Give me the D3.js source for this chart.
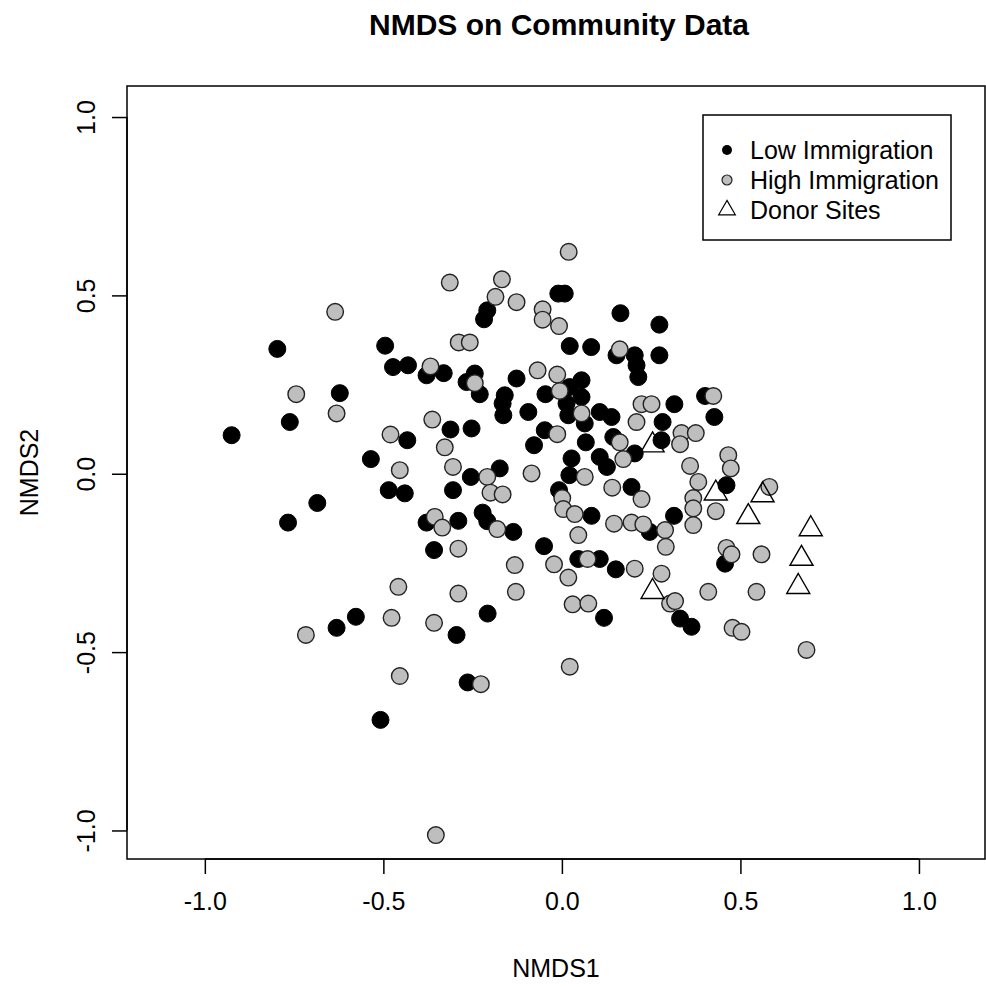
<!DOCTYPE html>
<html>
<head>
<meta charset="utf-8">
<script src="https://cdn.jsdelivr.net/npm/d3@7"></script>
<style>
  body { margin: 0; background: #fff; }
  text { font-family: "Liberation Sans", Arial, sans-serif; fill: #000; }
</style>
</head>
<body>
<div id="chart"></div>
<script>
// NMDS site scores, [NMDS1, NMDS2]
const lowImmigration = [
  [-0.797, 0.350], [-0.495, 0.359], [-0.473, 0.299], [-0.431, 0.304], [-0.622, 0.226],
  [-0.762, 0.145], [-0.925, 0.108], [-0.433, 0.094], [-0.010, 0.505], [0.008, 0.505],
  [-0.209, 0.458], [-0.218, 0.433], [0.022, 0.358], [0.082, 0.355], [0.164, 0.450],
  [-0.379, 0.276], [-0.331, 0.282], [-0.244, 0.281], [-0.267, 0.257], [-0.230, 0.223],
  [-0.127, 0.267], [-0.160, 0.220], [-0.166, 0.197], [-0.164, 0.164], [-0.094, 0.173],
  [0.055, 0.262], [-0.046, 0.223], [0.022, 0.243], [0.055, 0.215], [0.013, 0.197],
  [0.106, 0.173], [0.139, 0.159], [0.018, 0.164], [0.064, 0.141], [-0.048, 0.122],
  [-0.312, 0.124], [-0.253, 0.127], [-0.078, 0.080], [0.067, 0.088], [0.144, 0.103],
  [0.273, 0.418], [0.153, 0.332], [0.204, 0.332], [0.209, 0.304], [0.214, 0.271],
  [0.273, 0.332], [0.401, 0.218], [0.315, 0.195], [0.427, 0.159], [0.282, 0.145],
  [0.279, 0.094], [-0.535, 0.041], [-0.485, -0.046], [-0.440, -0.055], [-0.685, -0.082],
  [-0.767, -0.137], [-0.577, -0.401], [-0.631, -0.432], [-0.255, -0.009], [-0.174, 0.015],
  [-0.305, -0.046], [-0.379, -0.137], [-0.290, -0.132], [-0.222, -0.109], [-0.209, -0.133],
  [-0.136, -0.163], [-0.358, -0.214], [-0.208, -0.392], [-0.295, -0.452], [0.027, 0.043],
  [0.021, -0.004], [0.106, 0.047], [0.126, 0.019], [-0.008, -0.046], [0.083, -0.118],
  [-0.050, -0.203], [0.046, -0.239], [0.106, -0.239], [0.151, -0.268], [0.118, -0.404],
  [0.204, 0.057], [0.461, -0.032], [0.314, -0.118], [0.195, -0.037], [0.246, -0.163],
  [0.457, -0.252], [0.331, -0.406], [0.363, -0.429], [-0.264, -0.585], [-0.508, -0.690]
];

const highImmigration = [
  [-0.635, 0.454], [-0.744, 0.223], [-0.631, 0.169], [-0.480, 0.110], [0.019, 0.622],
  [-0.314, 0.536], [-0.168, 0.545], [-0.186, 0.496], [-0.127, 0.481], [-0.054, 0.461],
  [-0.054, 0.432], [-0.008, 0.414], [0.162, 0.349], [-0.289, 0.368], [-0.258, 0.368],
  [-0.368, 0.301], [-0.244, 0.254], [-0.068, 0.290], [-0.013, 0.278], [-0.006, 0.232],
  [0.055, 0.169], [-0.013, 0.111], [-0.363, 0.152], [-0.328, 0.074], [0.424, 0.218],
  [0.223, 0.195], [0.251, 0.195], [0.209, 0.145], [0.335, 0.114], [0.375, 0.114],
  [0.162, 0.088], [0.331, 0.083], [-0.454, 0.010], [-0.458, -0.317], [-0.477, -0.404],
  [-0.717, -0.452], [-0.305, 0.019], [-0.209, -0.009], [-0.200, -0.053], [-0.166, -0.058],
  [-0.356, -0.121], [-0.335, -0.151], [-0.181, -0.155], [-0.290, -0.210], [-0.132, -0.256],
  [-0.129, -0.331], [-0.290, -0.336], [-0.358, -0.418], [-0.085, 0.001], [0.064, -0.009],
  [0.141, -0.039], [0.001, -0.068], [0.004, -0.099], [0.036, -0.113], [0.146, -0.140],
  [0.046, -0.172], [-0.022, -0.254], [0.018, -0.291], [0.072, -0.239], [0.030, -0.366],
  [0.074, -0.364], [0.172, 0.041], [0.359, 0.022], [0.382, -0.023], [0.466, 0.052],
  [0.473, 0.015], [0.581, -0.037], [0.368, -0.068], [0.368, -0.097], [0.431, -0.105],
  [0.368, -0.144], [0.223, -0.071], [0.195, -0.137], [0.228, -0.142], [0.289, -0.158],
  [0.291, -0.205], [0.461, -0.208], [0.475, -0.226], [0.559, -0.226], [0.545, -0.331],
  [0.410, -0.331], [0.204, -0.266], [0.279, -0.280], [0.303, -0.364], [0.317, -0.357],
  [0.478, -0.432], [0.503, -0.443], [-0.454, -0.567], [-0.227, -0.590], [0.022, -0.541],
  [-0.353, -1.013], [0.685, -0.494]
];

const donorSites = [
  [0.254, 0.080], [0.431, -0.055], [0.562, -0.060], [0.522, -0.121],
  [0.697, -0.155], [0.671, -0.238], [0.662, -0.317], [0.254, -0.331]
];

const xTicks = [-1.0, -0.5, 0.0, 0.5, 1.0];
const yTicks = [-1.0, -0.5, 0.0, 0.5, 1.0];
const legendLabels = ['Low Immigration', 'High Immigration', 'Donor Sites'];

const width = 986;
const height = 987;
const plot = { left: 127, right: 985, top: 86, bottom: 859 };

const svg = d3.select('#chart')
  .append('svg')
  .attr('width', width)
  .attr('height', height);

// R-style limits (range + 4% either side)
const x = d3.scaleLinear().domain([-1.218, 1.185]).range([plot.left, plot.right]);
const y = d3.scaleLinear().domain([-1.08, 1.087]).range([plot.bottom, plot.top]);
// plain hyphen like R, not the unicode minus d3.format gives
const fmt = d => d.toFixed(1);

// points
const g = svg.append('g');

g.selectAll('circle.low')
  .data(lowImmigration)
  .enter().append('circle')
  .attr('class', 'low')
  .attr('cx', d => x(d[0]))
  .attr('cy', d => y(d[1]))
  .attr('r', 8.5)
  .attr('fill', '#000')
  .attr('stroke', '#000')
  .attr('stroke-width', 1);

g.selectAll('circle.high')
  .data(highImmigration)
  .enter().append('circle')
  .attr('class', 'high')
  .attr('cx', d => x(d[0]))
  .attr('cy', d => y(d[1]))
  .attr('r', 8.3)
  .attr('fill', '#bebebe')
  .attr('stroke', '#222')
  .attr('stroke-width', 1.4);

const tri = d3.symbol().type(d3.symbolTriangle).size(230);
g.selectAll('path.donor')
  .data(donorSites)
  .enter().append('path')
  .attr('class', 'donor')
  .attr('d', tri)
  .attr('transform', d => `translate(${x(d[0])},${y(d[1])})`)
  .attr('fill', 'none')
  .attr('stroke', '#000')
  .attr('stroke-width', 1.4);

// box
svg.append('rect')
  .attr('x', plot.left)
  .attr('y', plot.top)
  .attr('width', plot.right - plot.left)
  .attr('height', plot.bottom - plot.top)
  .attr('fill', 'none')
  .attr('stroke', '#000')
  .attr('stroke-width', 1.5);

// axes
const xAxis = d3.axisBottom(x).tickValues(xTicks).tickFormat(fmt).tickSize(15).tickPadding(18);
const yAxis = d3.axisLeft(y).tickValues(yTicks).tickFormat(fmt).tickSize(15);

const gx = svg.append('g')
  .attr('transform', `translate(0,${plot.bottom})`)
  .call(xAxis);
gx.select('.domain')
  .attr('d', `M${x(xTicks[0])},0H${x(xTicks[xTicks.length - 1])}`)
  .attr('stroke-width', 1.5);
gx.selectAll('.tick line').attr('stroke-width', 1.5);
gx.selectAll('.tick text')
  .attr('font-size', 25)
  .attr('font-family', '"Liberation Sans", Arial, sans-serif');

const gy = svg.append('g')
  .attr('transform', `translate(${plot.left},0)`)
  .call(yAxis);
gy.select('.domain')
  .attr('d', `M0,${y(yTicks[0])}V${y(yTicks[yTicks.length - 1])}`)
  .attr('stroke-width', 1.5);
gy.selectAll('.tick line').attr('stroke-width', 1.5);
// R draws y tick labels parallel to the axis
gy.selectAll('.tick text')
  .attr('font-size', 25)
  .attr('font-family', '"Liberation Sans", Arial, sans-serif')
  .attr('text-anchor', 'middle')
  .attr('dy', 0)
  .attr('x', 0)
  .attr('transform', 'translate(-32,0) rotate(-90)');

// titles
svg.append('text')
  .attr('x', (plot.left + plot.right) / 2 + 3)
  .attr('y', 35)
  .attr('text-anchor', 'middle')
  .attr('font-size', 30)
  .attr('font-weight', 'bold')
  .text('NMDS on Community Data');

svg.append('text')
  .attr('x', (plot.left + plot.right) / 2)
  .attr('y', 977)
  .attr('text-anchor', 'middle')
  .attr('font-size', 25)
  .text('NMDS1');

svg.append('text')
  .attr('transform', `translate(38,${(plot.top + plot.bottom) / 2}) rotate(-90)`)
  .attr('text-anchor', 'middle')
  .attr('font-size', 25)
  .text('NMDS2');

// legend
const legend = svg.append('g').attr('transform', 'translate(703,115)');
legend.append('rect')
  .attr('width', 248)
  .attr('height', 125)
  .attr('fill', '#fff')
  .attr('stroke', '#000')
  .attr('stroke-width', 1.5);

const rows = legend.selectAll('g.row')
  .data(legendLabels)
  .enter().append('g')
  .attr('class', 'row')
  .attr('transform', (d, i) => `translate(24,${35 + i * 30})`);

rows.filter((d, i) => i === 0).append('circle')
  .attr('r', 5).attr('fill', '#000');
rows.filter((d, i) => i === 1).append('circle')
  .attr('r', 5).attr('fill', '#bebebe').attr('stroke', '#222').attr('stroke-width', 1.2);
rows.filter((d, i) => i === 2).append('path')
  .attr('d', d3.symbol().type(d3.symbolTriangle).size(120))
  .attr('fill', 'none').attr('stroke', '#000').attr('stroke-width', 1.2);

rows.append('text')
  .attr('x', 23)
  .attr('y', 9)
  .attr('font-size', 25)
  .text(d => d);
</script>
</body>
</html>
